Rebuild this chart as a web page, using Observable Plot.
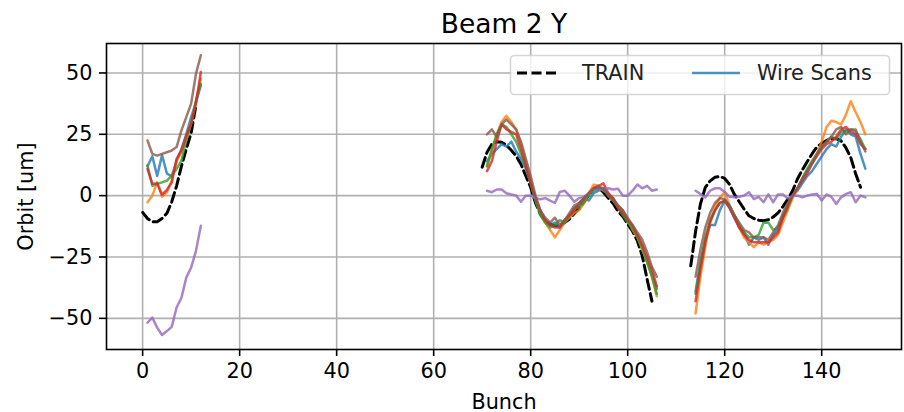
<!DOCTYPE html>
<html><head><meta charset="utf-8">
<script src="https://cdn.jsdelivr.net/npm/d3@7"></script>
<script src="https://cdn.jsdelivr.net/npm/@observablehq/plot@0.6"></script>
<style>body{margin:0;background:#fff} #chart{width:904px;height:412px}</style>
</head><body><div id="chart"></div>
<script>
const title = "Beam 2 Y";
const xLabel = "Bunch";
const yLabel = "Orbit [um]";
const xTicks = [0, 20, 40, 60, 80, 100, 120, 140];
const yTicks = [-50, -25, 0, 25, 50];
const legendLabels = ["TRAIN", "Wire Scans"];

// first bunch of each train segment
const trainStarts = [0, 70, 113];
const scanStarts = [1, 71, 114];

const train = [
  [-6.8, -9.3, -10.6, -10.6, -9.3, -7.2, -2.5, 4.0, 12, 19, 25.5, 37],
  [11.6, 17.7, 21, 22, 21.8, 20.5, 18.5, 16.2, 12.8, 8, 3.4, -3, -7.5, -10.3, -11.6, -12.2, -12.1, -11, -9.5, -7.3, -5, -2.7, 0.3, 3, 3.1, 1.4, -1, -3.2, -6.3, -8.5, -11.5, -14.5, -18.4, -24.5, -34, -43],
  [-28.6, -14.5, -3.4, 3.4, 6, 7.5, 7.8, 7, 4.6, 0.5, -2.5, -5.5, -8.2, -9.3, -10, -10.2, -9.8, -8.7, -7, -4.5, -1.5, 2.0, 6.8, 10.5, 13.8, 17, 19.8, 21.3, 22.5, 23.2, 23.2, 22.3, 19.5, 15.5, 8.9, 3.4]
];

const scanBlue = [
  [12, 16, 8, 16.5, 9, 8, 14, 19, 25, 32, 38, 45],
  [14, 17, 19, 21, 20, 22, 18, 15, 11, 5, -2, -7, -10, -12, -11, -13, -10, -9, -5, -4, -1, -2, 1, 2, 3, 0, -1, -4, -6, -10, -13, -16, -22, -27, -32, -38],
  [-39, -27, -18, -12, -12, -6, -2, -5, -9, -13, -15, -20, -17, -18, -17, -20, -16, -14, -8, -4, 0, 2, 5, 8, 10, 13, 16, 19, 21, 20, 24, 27, 25, 24, 17, 11]
];
const scanOrange = [
  [-2.7, 0, 5.4, -0.4, 1.4, 6.1, 14.3, 17.7, 23.8, 29.3, 38.8, 47.7],
  [12, 18, 25, 30, 32.5, 30, 27, 21, 14, 6, -1, -7, -11, -14, -17, -14, -11, -9, -7, -6, -3, 1, 4.5, 4, 2, 1, -2, -4, -7, -10, -14, -17, -22, -27, -33, -41],
  [-48, -33, -21, -10, -5, -1, 1.5, -4, -8, -13, -17, -19, -21, -19, -20, -19, -18, -16, -11, -6, -1, 3, 7, 10, 14, 17, 22, 28, 30.5, 30, 29, 33, 38.5, 34, 30, 25]
];
const scanGreen = [
  [12.3, 4, 4.8, 5.4, 6.1, 8.2, 10.9, 14.3, 22.5, 29.3, 38.8, 45.6],
  [12, 19, 25, 29, 28, 25, 22, 17, 12, 5, -2, -8, -11, -13, -12, -10, -11, -8, -5, -5, -2, 0, 2, 3, 2.5, 0, -2, -5, -8, -11, -13, -17, -21, -27, -33, -40],
  [-40, -28, -17, -10, -6, -3, -2, -4, -8, -12, -15, -17, -17, -16, -11, -11, -14, -13, -9, -5, 0, 3, 7, 11, 14, 17, 20, 22, 24, 23, 26, 26.5, 27, 26, 23, 19]
];
const scanRed = [
  [10.9, 4.8, 5, 0.4, 2.3, 5.4, 15, 18.4, 24.5, 29.3, 37.5, 50.4],
  [10, 14, 22, 29, 27, 26, 25, 19, 12, 5, -1, -6, -10, -12, -13, -13, -10, -8, -6, -3, -1, 1, 3, 4, 5, 1, -1, -5, -7, -10, -12, -16, -20, -25, -30, -37],
  [-43, -30, -19, -11, -6, -3, -2, -5, -9, -13, -16, -18, -19, -19, -19, -19, -17, -15, -9, -4, 0, 3, 6, 9, 13, 16, 19, 21, 22, 24, 27, 28, 26, 25, 21, 19]
];
const scanPurple = [
  [-51.8, -49.7, -53.8, -56.8, -55.2, -53.5, -45.6, -41.6, -33.4, -29.3, -22.5, -12.3],
  [2, 1.4, 2.5, 2.5, 1, 0.5, 0, -2.5, 0, 0, -1, -1.5, -1, -2, -3, 1.5, 2, 0, -2.5, -1, -0.5, 1, 2.5, 3, 2.5, 3, 2.5, 2.8, 0, 0, 2, 4.5, 3, 4, 2, 2.5],
  [2, 0.7, -0.7, 2, 3, 3, 1.5, -0.5, -0.7, -0.5, 0, 1.4, -1.4, -0.5, -2.7, 0.5, -2.7, 0.5, 0.5, -1.2, 0, 0, -0.7, 0, 0.5, 0.7, -2, 0.5, -0.5, -3.4, -0.7, 0.7, 1.4, -2.7, 0, -0.7]
];
const scanBrown = [
  [22.5, 17, 16.3, 17, 17.7, 18.4, 19.8, 26.6, 32, 37.5, 49.7, 57.2],
  [25, 27, 24, 29, 31, 29, 27, 22, 15, 8, 0, -6, -9, -11, -9, -12, -10, -7, -4, -3, -1, 1, 3, 3.5, 3, 0, -2, -4, -6, -9, -12, -15, -18, -23, -29, -33],
  [-33, -22, -13, -7, -3, -1, -1.5, -4, -8, -11, -14, -15, -17, -17, -17, -18, -15, -12, -7, -3, 0, 3, 7, 10, 13, 17, 20, 22, 24, 27, 28, 25, 27, 27, 22, 18]
];

const scans = [scanBlue, scanOrange, scanGreen, scanRed, scanPurple, scanBrown];
const scanColors = ["#1f77b4", "#ff7f0e", "#2ca02c", "#d62728", "#9467bd", "#8c564b"];

function toRows(segs, starts) {
  const rows = [];
  segs.forEach((vals, s) => vals.forEach((v, i) => rows.push({seg: s, bunch: starts[s] + i, value: v})));
  return rows;
}

const trainRows = toRows(train, trainStarts);
const scanMarks = scans.map((segs, k) =>
  Plot.line(toRows(segs, scanStarts), {x: "bunch", y: "value", z: "seg", stroke: scanColors[k], strokeWidth: 2.5, strokeOpacity: 0.8})
);

const chart = Plot.plot({
  width: 904, height: 412,
  marginTop: 43, marginBottom: 63, marginLeft: 106, marginRight: 3,
  style: {fontFamily: "'DejaVu Sans', sans-serif", fontSize: "20.8px", background: "white", color: "black", overflow: "visible"},
  x: {domain: [-7.45, 156.45]},
  y: {domain: [-62.7, 62.0]},
  marks: [
    Plot.gridX({ticks: xTicks, stroke: "#b0b0b0", strokeOpacity: 1, strokeWidth: 1.6}),
    Plot.gridY({ticks: yTicks, stroke: "#b0b0b0", strokeOpacity: 1, strokeWidth: 1.6}),
    Plot.line(trainRows, {x: "bunch", y: "value", z: "seg", stroke: "black", strokeWidth: 3, strokeDasharray: "10,4.5"}),
    ...scanMarks,
    Plot.frame({stroke: "black", strokeWidth: 1.6}),
    Plot.axisX({ticks: xTicks, tickSize: 7, tickPadding: 7, strokeWidth: 1.6, label: xLabel, labelArrow: "none", labelAnchor: "center", labelOffset: 59}),
    Plot.axisY({ticks: yTicks, tickSize: 7, tickPadding: 7, strokeWidth: 1.6, label: yLabel, labelArrow: "none", labelAnchor: "center", labelOffset: 88}),
    Plot.text([title], {frameAnchor: "top", lineAnchor: "bottom", dy: -11, fontSize: "26.5px"})
  ]
});

// legend (top-right, inside the axes)
const svg = d3.select(chart);
const lg = svg.append("g").attr("class", "legend").attr("text-anchor", "start").style("font-size", "20.8px");
lg.append("rect").attr("x", 510.5).attr("y", 55.5).attr("width", 379).attr("height", 39).attr("rx", 4)
  .attr("fill", "white").attr("fill-opacity", 0.8).attr("stroke", "#cccccc").attr("stroke-opacity", 0.8).attr("stroke-width", 1.6);
const ly = 73;
lg.append("line").attr("x1", 517).attr("x2", 559).attr("y1", ly).attr("y2", ly)
  .attr("stroke", "black").attr("stroke-width", 3).attr("stroke-dasharray", "10,4.5");
lg.append("text").attr("x", 582).attr("y", ly).attr("dy", "0.36em").attr("text-anchor", "start").attr("fill", "#222").text(legendLabels[0]);
lg.append("line").attr("x1", 692).attr("x2", 740).attr("y1", ly).attr("y2", ly)
  .attr("stroke", scanColors[0]).attr("stroke-opacity", 0.8).attr("stroke-width", 2.5);
lg.append("text").attr("x", 757).attr("y", ly).attr("dy", "0.36em").attr("text-anchor", "start").attr("fill", "#222").text(legendLabels[1]);

document.getElementById("chart").append(chart);
</script>
</body></html>
